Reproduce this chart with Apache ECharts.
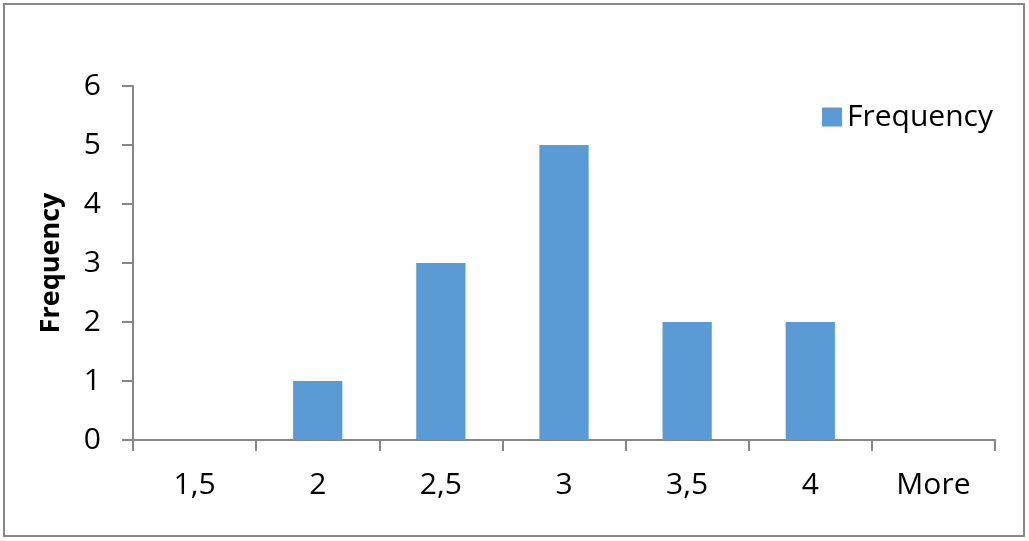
<!DOCTYPE html>
<html>
<head>
<meta charset="utf-8">
<script src="https://cdn.jsdelivr.net/npm/echarts@6/dist/echarts.min.js"></script>
<style>
  html, body { margin: 0; padding: 0; background: #fff; }
  #chart { width: 1029px; height: 541px; }
</style>
</head>
<body>
<div id="chart"></div>
<script>
const bins = ["1,5", "2", "2,5", "3", "3,5", "4", "More"];
const frequency = [0, 1, 3, 5, 2, 2, 0];

const axisGray = "#868686";
const font = "'Open Sans', sans-serif";

const chart = echarts.init(document.getElementById("chart"));

chart.setOption({
  animation: false,
  textStyle: { fontFamily: font },
  graphic: [
    {
      type: "rect",
      shape: { x: 4, y: 4, width: 1020, height: 532 },
      style: { fill: "none", stroke: "#898989", lineWidth: 2 },
      silent: true,
    },
  ],
  legend: {
    data: ["Frequency"],
    left: 817,
    top: 97,
    icon: "rect",
    itemWidth: 20,
    itemHeight: 19,
    itemGap: 8,
    textStyle: { fontSize: 30, color: "#000", fontFamily: font },
  },
  grid: { left: 133, right: 34, top: 86, bottom: 101, containLabel: false },
  xAxis: {
    type: "category",
    data: bins,
    boundaryGap: true,
    axisLine: { lineStyle: { color: axisGray, width: 2 } },
    axisTick: { show: true, length: 11, alignWithLabel: false, lineStyle: { color: axisGray, width: 2 } },
    axisLabel: { color: "#000", fontSize: 30, margin: 30, fontFamily: font },
  },
  yAxis: {
    type: "value",
    min: 0,
    max: 6,
    interval: 1,
    name: "Frequency",
    nameLocation: "middle",
    nameGap: 68,
    nameTextStyle: { fontSize: 27, fontWeight: "bold", color: "#000", fontFamily: font },
    axisLine: { show: true, lineStyle: { color: axisGray, width: 2 } },
    axisTick: { show: true, length: 11, lineStyle: { color: axisGray, width: 2 } },
    axisLabel: { color: "#000", fontSize: 30, margin: 32, fontFamily: font },
    splitLine: { show: false },
  },
  series: [
    {
      name: "Frequency",
      type: "bar",
      data: frequency,
      barWidth: "40%",
      itemStyle: { color: "#5B9BD5" },
    },
  ],
});
</script>
</body>
</html>
